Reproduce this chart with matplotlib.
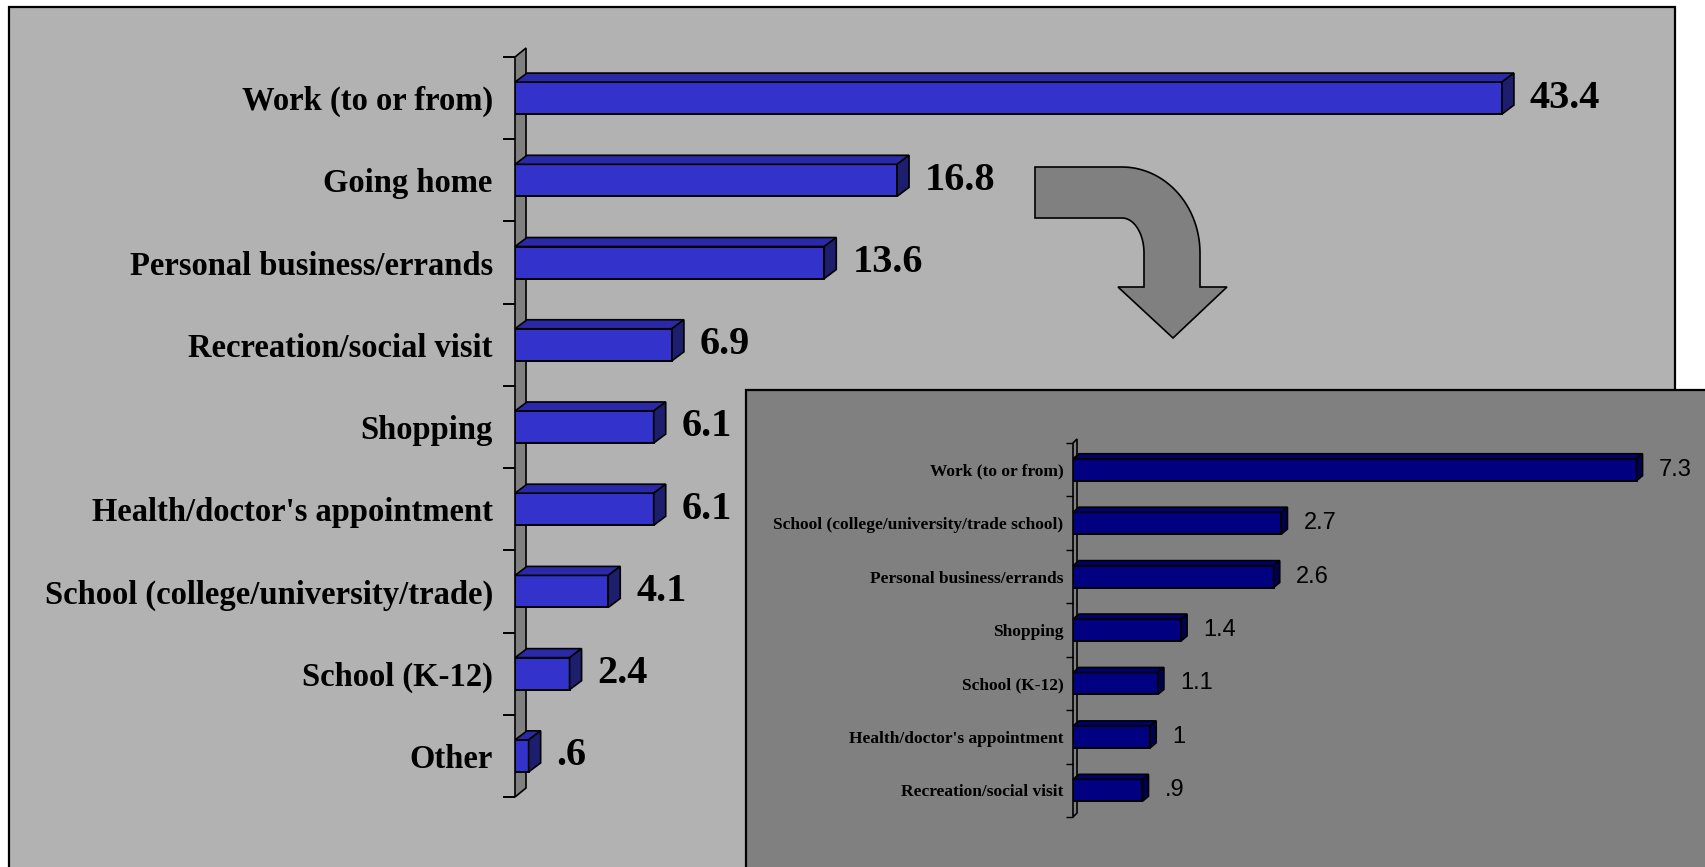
import matplotlib
matplotlib.use("Agg")
import matplotlib.pyplot as plt
import numpy as np
from matplotlib.patches import Polygon, Rectangle, PathPatch
from matplotlib.path import Path

W, H, DPI = 1705, 867, 100

MAIN_CATS = ["Work (to or from)", "Going home", "Personal business/errands",
             "Recreation/social visit", "Shopping", "Health/doctor's appointment",
             "School (college/university/trade)", "School (K-12)", "Other"]
MAIN_VALS = [43.4, 16.8, 13.6, 6.9, 6.1, 6.1, 4.1, 2.4, 0.6]

INSET_CATS = ["Work (to or from)", "School (college/university/trade school)",
              "Personal business/errands", "Shopping", "School (K-12)",
              "Health/doctor's appointment", "Recreation/social visit"]
INSET_VALS = [7.3, 2.7, 2.6, 1.4, 1.1, 1.0, 0.9]

SERIF = ["Liberation Serif", "DejaVu Serif"]
SANS = ["Liberation Sans", "DejaVu Sans"]


def px_box(x0, y0, x1, y1):
    """Figure-fraction rect from pixel corners (origin top-left)."""
    return [x0 / W, 1 - y1 / H, (x1 - x0) / W, (y1 - y0) / H]


def fmt(v):
    s = f"{v:g}"
    return s[1:] if s.startswith("0.") else s


def bars3d(ax, cats, vals, xmax, height, depth, wall_depth, faces,
           tick_len, tick_w, label_font, label_pad, value_font, value_gap):
    n = len(cats)
    y = np.arange(n)
    ax.set_xlim(0, xmax)
    ax.set_ylim(n - 0.5, -0.5)
    sx = xmax / ax.bbox.width
    sy = n / ax.bbox.height
    dx, dy = depth[0] * sx, depth[1] * sy
    wx, wy = wall_depth[0] * sx, wall_depth[1] * sy

    # side wall of the category axis
    wall = Polygon([(0, -0.5), (0, n - 0.5), (wx, n - 0.5 - wy), (wx, -0.5 - wy)],
                   closed=True, facecolor="#808080", edgecolor="black",
                   lw=1.2, clip_on=False, zorder=1)
    ax.add_patch(wall)

    front, top, side = faces
    ax.barh(y, vals, height=height, color=front, edgecolor="black",
            lw=1.4, zorder=3)
    for yi, v in zip(y, vals):
        yt, yb = yi - height / 2, yi + height / 2
        ax.add_patch(Polygon([(0, yt), (v, yt), (v + dx, yt - dy), (dx, yt - dy)],
                             closed=True, facecolor=top, edgecolor="black",
                             lw=1.2, clip_on=False, zorder=3))
        ax.add_patch(Polygon([(v, yt), (v, yb), (v + dx, yb - dy), (v + dx, yt - dy)],
                             closed=True, facecolor=side, edgecolor="black",
                             lw=1.2, clip_on=False, zorder=3))
        ax.text(v + value_gap * sx, yi, fmt(v), ha="left", va="center",
                clip_on=False, **value_font)

    ax.set_yticks(y)
    ax.set_yticklabels(cats, **label_font)
    ax.set_yticks(np.arange(n + 1) - 0.5, minor=True)
    ax.tick_params(axis="y", which="major", length=0, pad=label_pad)
    ax.tick_params(axis="y", which="minor", length=tick_len, width=tick_w,
                   color="black")
    ax.set_xticks([])
    for sp in ax.spines.values():
        sp.set_visible(False)
    ax.patch.set_alpha(0)


fig = plt.figure(figsize=(W / DPI, H / DPI), dpi=DPI)
fig.patch.set_facecolor("white")

# backdrop: panels and the curved arrow, drawn in pixel coordinates
bg = fig.add_axes([0, 0, 1, 1], zorder=0)
bg.set_xlim(0, W)
bg.set_ylim(H, 0)
bg.axis("off")
bg.add_patch(Rectangle((9, 7), 1666, 900, facecolor="#B2B2B2",
                       edgecolor="black", lw=1.6))

cx, cy = 1122, 253
t_out = np.linspace(np.pi / 2, 0, 30)
t_in = np.linspace(0, np.pi / 2, 30)
verts = [(1035, 167), (1122, 167)]
verts += list(zip(cx + 78 * np.cos(t_out), cy - 86 * np.sin(t_out)))
verts += [(1200, 287), (1227, 287), (1173, 338), (1118, 287), (1144, 287)]
verts += list(zip(cx + 22 * np.cos(t_in), cy - 35 * np.sin(t_in)))
verts += [(1035, 218), (1035, 167)]
codes = [Path.MOVETO] + [Path.LINETO] * (len(verts) - 2) + [Path.CLOSEPOLY]
bg.add_patch(PathPatch(Path(verts, codes), facecolor="#808080",
                       edgecolor="black", lw=1.2))

bg.add_patch(Rectangle((746, 390), 1000, 600, facecolor="#808080",
                       edgecolor="black", lw=1.6))

# main chart
ax = fig.add_axes(px_box(515, 57, 1680, 797), zorder=1)
bars3d(ax, MAIN_CATS, MAIN_VALS, xmax=1165 / 22.74, height=0.39,
       depth=(12, 9), wall_depth=(11, 9),
       faces=("#3333CC", "#2A2AA8", "#1E1E6E"),
       tick_len=8.6, tick_w=1.4,
       label_font=dict(family=SERIF, fontweight="bold", fontsize=23.5),
       label_pad=16,
       value_font=dict(family=SERIF, fontweight="bold", fontsize=29),
       value_gap=28)

# inset chart
ax2 = fig.add_axes(px_box(1073, 443, 1705, 817), zorder=2)
bars3d(ax2, INSET_CATS, INSET_VALS, xmax=632 / 77.2, height=0.41,
       depth=(6, 5), wall_depth=(4, 4),
       faces=("#000080", "#00006E", "#000050"),
       tick_len=5, tick_w=1.0,
       label_font=dict(family=SERIF, fontweight="bold", fontsize=12.5),
       label_pad=7,
       value_font=dict(family=SANS, fontsize=17),
       value_gap=22)

fig.savefig("out.png", dpi=DPI)
